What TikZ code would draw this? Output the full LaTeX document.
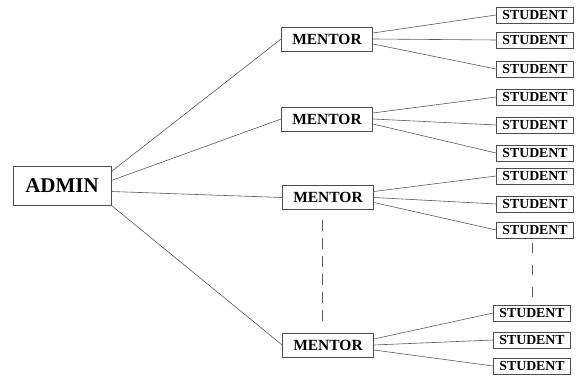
\documentclass[tikz,border=0pt]{standalone}
\usepackage{fontspec}
\setmainfont{Liberation Serif}
\begin{document}
\begin{tikzpicture}[x=1pt,y=-1pt,
  box/.style={draw=black!70, line width=0.8pt, inner sep=0pt, align=center},
  adminbox/.style={box, minimum width=98pt, minimum height=39pt, font=\fontsize{21}{22}\selectfont\bfseries},
  mentorbox/.style={box, minimum width=91pt, minimum height=24pt, font=\fontsize{15.5}{16}\selectfont\bfseries},
  studbox/.style={box, minimum width=77pt, minimum height=16pt, font=\fontsize{13.8}{14}\selectfont\bfseries},
  link/.style={draw=black!65, line width=0.6pt},
  gap/.style={draw=black!65, line width=0.6pt, dash pattern=on 11pt off 7pt}]
\useasboundingbox (0,0) rectangle (577,379);
\node[adminbox] (a) at (62,185.5) {ADMIN};
\node[mentorbox] (m1) at (327,39) {MENTOR};
\node[mentorbox] (m2) at (327,119) {MENTOR};
\node[mentorbox] (m3) at (328,197.5) {MENTOR};
\node[mentorbox] (m4) at (328,345) {MENTOR};
\node[studbox] (s1) at (535,15) {STUDENT};
\node[studbox] (s2) at (535,40) {STUDENT};
\node[studbox] (s3) at (535,69) {STUDENT};
\node[studbox] (s4) at (535,97) {STUDENT};
\node[studbox] (s5) at (535,125) {STUDENT};
\node[studbox] (s6) at (535,153) {STUDENT};
\node[studbox] (s7) at (535,176) {STUDENT};
\node[studbox] (s8) at (535,204) {STUDENT};
\node[studbox] (s9) at (535,230) {STUDENT};
\node[studbox] (s10) at (532,313) {STUDENT};
\node[studbox] (s11) at (532,340) {STUDENT};
\node[studbox] (s12) at (532,366) {STUDENT};
% admin to mentors
\draw[link] ([yshift=14pt]a.east) -- (m1.west);
\draw[link] ([yshift=5pt]a.east) -- (m2.west);
\draw[link] ([yshift=-6pt]a.east) -- (m3.west);
\draw[link] (a.south east) -- (m4.west);
% mentors to students
\foreach \m/\p/\q/\r in {m1/s1/s2/s3, m2/s4/s5/s6, m3/s7/s8/s9, m4/s10/s11/s12}{
  \draw[link] ([yshift=6pt]\m.east) -- (\p.west);
  \draw[link] ([yshift=0pt]\m.east) -- (\q.west);
  \draw[link] ([yshift=-5pt]\m.east) -- (\r.west);
}
% dashed continuation
\coordinate (d1) at (322,220);
\coordinate (d2) at (322,322);
\coordinate (e1) at (532,243);
\coordinate (e2) at (532,298);
\draw[gap] (d1) -- (d2);
\draw[gap, dash pattern=on 10pt off 12pt] (e1) -- (e2);
\end{tikzpicture}
\end{document}
